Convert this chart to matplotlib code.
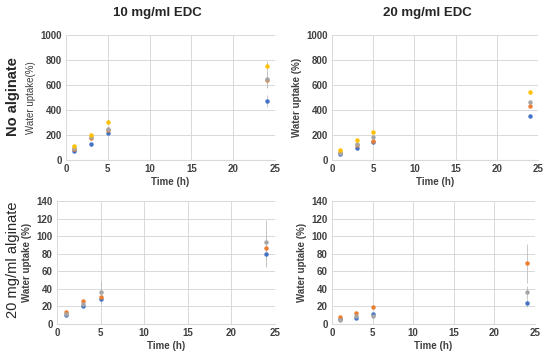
import matplotlib
matplotlib.use("Agg")
import matplotlib.pyplot as plt

plt.rcParams['font.family'] = ['Liberation Sans', 'DejaVu Sans']

# time points (h)
time_h = [1, 3, 5, 24]

# 10 mg/ml EDC, no alginate
tl_blue = [70, 125, 215, 470]
tl_orange = [85, 175, 240, 640]
tl_gray = [95, 180, 245, 645]
tl_yellow = [110, 200, 305, 750]
tl_err_blue = [10, 10, 15, 50]
tl_err_orange = [10, 15, 20, 60]
tl_err_gray = [10, 15, 20, 70]
tl_err_yellow = [10, 15, 20, 40]

# 20 mg/ml EDC, no alginate
tr_blue = [50, 95, 140, 355]
tr_orange = [60, 120, 155, 430]
tr_gray = [55, 130, 180, 460]
tr_yellow = [80, 160, 225, 545]
tr_err_blue = [8, 10, 12, 15]
tr_err_orange = [8, 10, 12, 15]
tr_err_gray = [8, 10, 12, 15]
tr_err_yellow = [8, 10, 12, 15]

# 10 mg/ml EDC, 20 mg/ml alginate
bl_blue = [10, 21, 29, 80]
bl_orange = [14, 26, 31, 86]
bl_gray = [11, 23, 37, 93]
bl_err_blue = [2, 2, 5, 15]
bl_err_orange = [2, 3, 4, 20]
bl_err_gray = [2, 4, 12, 25]

# 20 mg/ml EDC, 20 mg/ml alginate
br_blue = [6, 7, 11, 24]
br_orange = [8, 13, 19, 69]
br_gray = [5, 9, 9, 36]
br_err_blue = [1, 1, 2, 5]
br_err_orange = [1, 2, 2, 22]
br_err_gray = [1, 1, 2, 7]

c_blue = '#4472C4'
c_orange = '#ED7D31'
c_gray = '#A5A5A5'
c_yellow = '#FFC000'
txt = '#404040'

fig = plt.figure(figsize=(5.5, 3.57), dpi=100)

def setup(ax, ymax, ystep, ylabel, yl_bold):
    ax.set_xlim(0, 25)
    ax.set_ylim(0, ymax)
    ax.set_xticks(range(0, 26, 5))
    ax.set_yticks(range(0, ymax + 1, ystep))
    ax.grid(True, color='#D9D9D9', linewidth=0.7)
    ax.set_axisbelow(True)
    for s in ['top', 'right', 'left']:
        ax.spines[s].set_visible(False)
    ax.spines['bottom'].set_color('#D9D9D9')
    ax.tick_params(length=0, labelsize=7, colors=txt, pad=3)
    for lab in ax.get_xticklabels() + ax.get_yticklabels():
        lab.set_fontweight('bold')
    ax.set_xlabel('Time (h)', fontsize=7, fontweight='bold', color=txt, labelpad=2)
    ax.set_ylabel(ylabel, fontsize=7, color=txt, labelpad=3,
                  fontweight='bold' if yl_bold else 'normal')

def series(ax, y, err, c):
    ax.errorbar(time_h, y, yerr=err, fmt='o', color=c, ms=3.2, mec='none',
                ecolor='#BFBFBF', elinewidth=0.6, capsize=0, zorder=3)

ax1 = fig.add_axes([0.12, 0.552, 0.38, 0.35])
setup(ax1, 1000, 200, 'Water uptake(%)', False)
series(ax1, tl_blue, tl_err_blue, c_blue)
series(ax1, tl_orange, tl_err_orange, c_orange)
series(ax1, tl_gray, tl_err_gray, c_gray)
series(ax1, tl_yellow, tl_err_yellow, c_yellow)

ax2 = fig.add_axes([0.6036, 0.552, 0.3745, 0.35])
setup(ax2, 1000, 200, 'Water uptake (%)', True)
series(ax2, tr_blue, tr_err_blue, c_blue)
series(ax2, tr_orange, tr_err_orange, c_orange)
series(ax2, tr_gray, tr_err_gray, c_gray)
series(ax2, tr_yellow, tr_err_yellow, c_yellow)

ax3 = fig.add_axes([0.1036, 0.0924, 0.396, 0.3445])
setup(ax3, 140, 20, 'Water uptake (%)', True)
series(ax3, bl_blue, bl_err_blue, c_blue)
series(ax3, bl_orange, bl_err_orange, c_orange)
series(ax3, bl_gray, bl_err_gray, c_gray)

ax4 = fig.add_axes([0.6036, 0.0924, 0.369, 0.3445])
setup(ax4, 140, 20, 'Water uptake (%)', True)
series(ax4, br_blue, br_err_blue, c_blue)
series(ax4, br_orange, br_err_orange, c_orange)
series(ax4, br_gray, br_err_gray, c_gray)

fig.text(157 / 550, 1 - 13 / 357, '10 mg/ml EDC', ha='center', va='center',
         fontsize=9.5, fontweight='bold', color='#262626')
fig.text(427 / 550, 1 - 13 / 357, '20 mg/ml EDC', ha='center', va='center',
         fontsize=9.5, fontweight='bold', color='#262626')
fig.text(13 / 550, 1 - 97 / 357, 'No alginate', rotation=90, ha='center', va='center',
         fontsize=10.5, fontweight='bold', color='#262626')
fig.text(13 / 550, 1 - 260 / 357, '20 mg/ml alginate', rotation=90, ha='center', va='center',
         fontsize=10.5, color='#262626')

fig.savefig('out.png', dpi=100)
